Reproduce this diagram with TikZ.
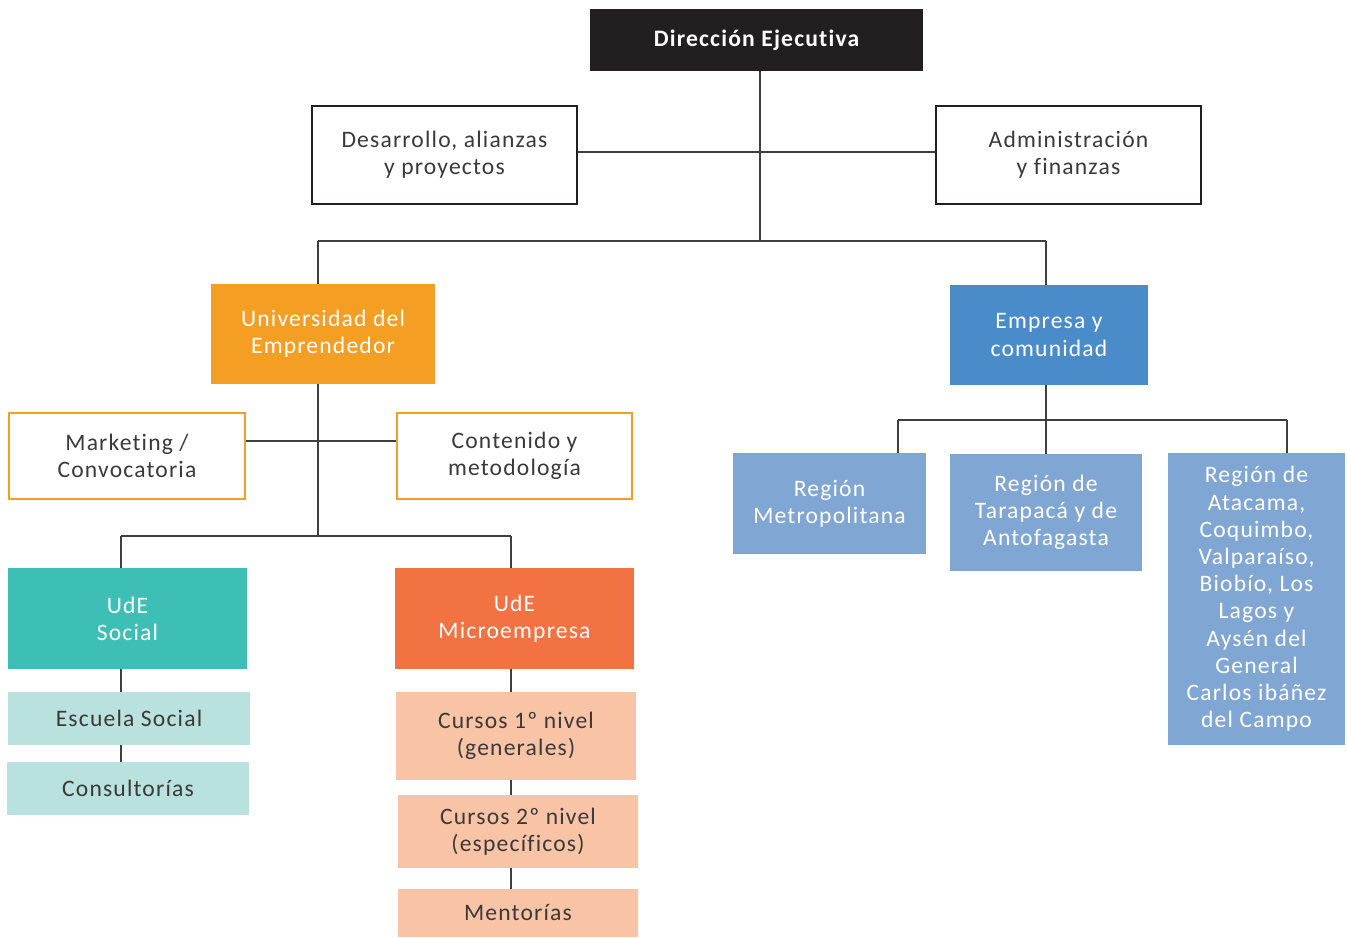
\documentclass[tikz,border=0pt]{standalone}
\usepackage{fontspec}
\setmainfont{Carlito}[LetterSpace=5,Ligatures={NoCommon}]
\definecolor{cblack}{HTML}{231F20}
\definecolor{corange}{HTML}{F49E23}
\definecolor{cblue}{HTML}{4A8BC9}
\definecolor{cteal}{HTML}{3DBFB5}
\definecolor{cmicro}{HTML}{F27242}
\definecolor{cltteal}{HTML}{B9E1DD}
\definecolor{cpeach}{HTML}{F9C3A6}
\definecolor{cregion}{HTML}{80A6D4}
\definecolor{ctext}{HTML}{3A3A3A}
\definecolor{cline}{HTML}{3F3F3F}
\begin{document}
\begin{tikzpicture}[x=0.5pt,y=-0.5pt,
  base/.style={rectangle, inner sep=0pt, align=center, font=\fontsize{11.8}{13.6}\selectfont, text=ctext},
  topbox/.style={base, fill=cblack, text=white, font=\fontsize{11.8}{13.6}\selectfont\bfseries},
  outlinebox/.style={base, draw=cblack, line width=1.25pt, fill=white},
  orangeline/.style={base, draw=corange, line width=1.25pt, fill=white},
  filled/.style={base, fill=#1, text=white},
  pale/.style={base, fill=#1, text=ctext},
  conn/.style={draw=cline, line width=0.75pt}]
\useasboundingbox (0,0) rectangle (1347,937);
% top
\node[topbox, minimum width=166.5pt, minimum height=31pt] (dir) at (756.5,40) {Dirección Ejecutiva};
\node[outlinebox, minimum width=132.5pt, minimum height=49pt] (dev) at (444.5,155) {Desarrollo, alianzas\\y proyectos};
\node[outlinebox, minimum width=132.5pt, minimum height=49pt] (adm) at (1068.5,155) {Administración\\y finanzas};
% second level
\node[filled=corange, minimum width=112pt, minimum height=50pt] (ude) at (323,334) {Universidad del\\Emprendedor};
\node[filled=cblue, minimum width=99pt, minimum height=50pt] (emp) at (1049,335) {Empresa y\\comunidad};
% UdE side
\node[orangeline, minimum width=118pt, minimum height=43pt] (mkt) at (127,456) {Marketing /\\Convocatoria};
\node[orangeline, minimum width=117.5pt, minimum height=43pt] (cont) at (514.5,456) {Contenido y\\metodología};
\node[filled=cteal, minimum width=119.5pt, minimum height=50.5pt] (soc) at (127.5,618.5) {UdE\\Social};
\node[filled=cmicro, minimum width=119.5pt, minimum height=50.5pt] (mic) at (514.5,618.5) {UdE\\Microempresa};
\node[pale=cltteal, minimum width=121pt, minimum height=26.5pt] (esc) at (129,718.5) {Escuela Social};
\node[pale=cltteal, minimum width=121pt, minimum height=26.5pt] (cons) at (128,788.5) {Consultorías};
\node[pale=cpeach, minimum width=120pt, minimum height=44pt] (c1) at (516,736) {Cursos 1º nivel\\(generales)};
\node[pale=cpeach, minimum width=120pt, minimum height=36.5pt] (c2) at (518,831.5) {Cursos 2º nivel\\(específicos)};
\node[pale=cpeach, minimum width=120pt, minimum height=24pt] (men) at (518,913) {Mentorías};
% regions
\node[filled=cregion, minimum width=96.5pt, minimum height=50.5pt] (rm) at (829.5,503.5) {Región\\Metropolitana};
\node[filled=cregion, minimum width=96pt, minimum height=58.5pt] (rt) at (1046,512.5) {Región de\\Tarapacá y de\\Antofagasta};
\node[filled=cregion, minimum width=88.5pt, minimum height=146pt] (ra) at (1256.5,599) {Región de\\Atacama,\\Coquimbo,\\Valparaíso,\\Biobío, Los\\Lagos y\\Aysén del\\General\\Carlos ibáñez\\del Campo};
% junction coordinates
\coordinate (j0) at (760,152);
\coordinate (j1) at (760,241);
\coordinate (a) at (318,241);
\coordinate (b) at (1046,241);
\coordinate (d) at (318,441);
\coordinate (c) at (318,536);
\coordinate (e1) at (121,536);
\coordinate (e2) at (511,536);
\coordinate (f) at (1046,420);
\coordinate (g1) at (898,420);
\coordinate (g2) at (1287,420);
% connectors
\draw[conn] (dir.south -| j1) -- (j1);
\draw[conn] (dev.east |- j0) -- (adm.west |- j0);
\draw[conn] (a) -- (b);
\draw[conn] (a) -- (a |- ude.north);
\draw[conn] (b) -- (b |- emp.north);
\draw[conn] (ude.south -| c) -- (c);
\draw[conn] (mkt.east |- d) -- (cont.west |- d);
\draw[conn] (e1) -- (e2);
\draw[conn] (e1) -- (e1 |- soc.north);
\draw[conn] (e2) -- (e2 |- mic.north);
\draw[conn] (soc.south -| e1) -- (esc.north -| e1);
\draw[conn] (esc.south -| e1) -- (cons.north -| e1);
\draw[conn] (mic.south -| e2) -- (c1.north -| e2);
\draw[conn] (c1.south -| e2) -- (c2.north -| e2);
\draw[conn] (c2.south -| e2) -- (men.north -| e2);
\draw[conn] (emp.south -| f) -- (f);
\draw[conn] (g1) -- (g2);
\draw[conn] (g1) -- (g1 |- rm.north);
\draw[conn] (f) -- (f |- rt.north);
\draw[conn] (g2) -- (g2 |- ra.north);
\end{tikzpicture}
\end{document}
